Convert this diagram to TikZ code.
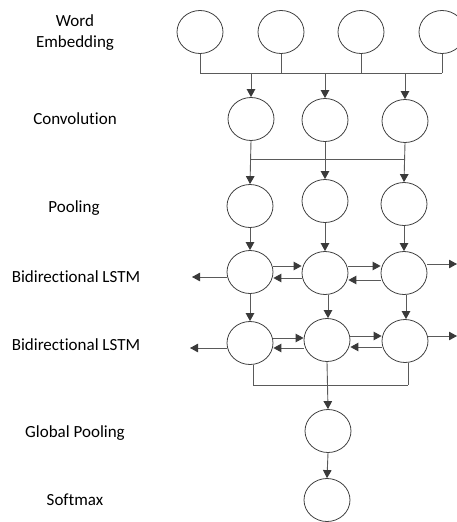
\documentclass[tikz,border=0pt]{standalone}
\usepackage{fontspec}
\setmainfont{Carlito}[Ligatures={NoCommon}]
\usetikzlibrary{shapes.geometric,arrows.meta}
\definecolor{circ}{HTML}{404040}
\definecolor{lnk}{HTML}{5A5A5A}
\definecolor{tipc}{HTML}{3A3A3A}
\begin{document}
\begin{tikzpicture}[x=1pt,y=-1pt,
  unit/.style={ellipse,draw=circ,line width=0.8pt,minimum width=46pt,minimum height=43pt,inner sep=0pt},
  lbl/.style={font=\fontsize{17}{21}\selectfont,align=center,text=black},
  link/.style={draw=lnk,line width=0.9pt},
  arr/.style={link,-{Triangle[length=8pt,width=8.5pt,color=tipc]}}
]
\useasboundingbox (0,0) rectangle (456,522);
% labels
\node[lbl] (tWE) at (75,33) {Word\\Embedding};
\node[lbl] (tConv) at (75,119) {Convolution};
\node[lbl] (tPool) at (74,208) {Pooling};
\node[lbl] (tL1) at (76,277) {Bidirectional LSTM};
\node[lbl] (tL2) at (76,345) {Bidirectional LSTM};
\node[lbl] (tGP) at (75,433) {Global Pooling};
\node[lbl] (tSM) at (75,500) {Softmax};
% word embedding
\node[unit] (we1) at (200,32) {};
\node[unit] (we2) at (281,32) {};
\node[unit] (we3) at (361,32) {};
\node[unit] (we4) at (442,32) {};
% convolution
\node[unit] (cv1) at (251,119) {};
\node[unit] (cv2) at (325,120) {};
\node[unit] (cv3) at (405,121) {};
% pooling
\node[unit] (pl1) at (250,206) {};
\node[unit] (pl2) at (325,201) {};
\node[unit] (pl3) at (404,204) {};
% LSTM 1
\node[unit] (la1) at (250,272) {};
\node[unit] (la2) at (325,273) {};
\node[unit] (la3) at (404,273) {};
% LSTM 2
\node[unit] (lb1) at (250,343) {};
\node[unit] (lb2) at (327,340) {};
\node[unit] (lb3) at (405,341) {};
% global pooling, softmax
\node[unit] (gp) at (328,431) {};
\node[unit] (sm) at (327,500) {};
\coordinate (outLa) at (192,277);
\coordinate (outRa) at (457,264);
\coordinate (outLb) at (190,348);
\coordinate (outRb) at (457,336);
% embedding -> convolution
\draw[link] (we1.south) -- (we1.south |- 0,73);
\draw[link] (we2.south) -- (we2.south |- 0,73);
\draw[link] (we3.south) -- (we3.south |- 0,73);
\draw[link] (we4.south) -- (we4.south |- 0,73);
\draw[link] (we1.south |- 0,73) -- (we4.south |- 0,73);
\draw[arr] (cv1.north |- 0,73) -- (cv1.north);
\draw[arr] (cv2.north |- 0,73) -- (cv2.north);
\draw[arr] (cv3.north |- 0,73) -- (cv3.north);
% convolution -> pooling
\draw[link] (cv1.south |- 0,159) -- (cv3.south |- 0,159);
\draw[arr] (cv1.south) -- (pl1.north);
\draw[arr] (cv2.south) -- (pl2.north);
\draw[arr] (cv3.south) -- (pl3.north);
% pooling -> LSTM1
\draw[arr] (pl1.south) -- (la1.north);
\draw[arr] (pl2.south) -- (la2.north);
\draw[arr] (pl3.south) -- (la3.north);
% LSTM1 horizontal
\draw[arr] (la1.east |- 0,266) -- (la2.west |- 0,266);
\draw[arr] (la2.west |- 0,278) -- (la1.east |- 0,278);
\draw[arr] (la2.east |- 0,266) -- (la3.west |- 0,266);
\draw[arr] (la3.west |- 0,280) -- (la2.east |- 0,280);
\draw[arr] (la1.west |- outLa) -- (outLa);
\draw[arr] (la3.east |- outRa) -- (outRa);
% LSTM1 -> LSTM2
\draw[arr] (la1.south) -- (lb1.north);
\draw[arr] ([xshift=3pt]la2.south) -- ([xshift=1pt]lb2.north);
\draw[arr] ([xshift=2pt]la3.south) -- ([xshift=1pt]lb3.north);
% LSTM2 horizontal
\draw[arr] (lb1.east |- 0,338) -- (lb2.west |- 0,338);
\draw[arr] (lb2.west |- 0,348) -- (lb1.east |- 0,348);
\draw[arr] (lb2.east |- 0,336) -- (lb3.west |- 0,336);
\draw[arr] (lb3.west |- 0,347) -- (lb2.east |- 0,347);
\draw[arr] (lb1.west |- outLb) -- (outLb);
\draw[arr] (lb3.east |- outRb) -- (outRb);
% LSTM2 -> global pooling
\draw[link] ([xshift=3pt]lb1.south) -- ([xshift=3pt]lb1.south |- 0,385);
\draw[link] ([xshift=3pt]lb3.south) -- ([xshift=3pt]lb3.south |- 0,385);
\draw[link] ([xshift=3pt]lb1.south |- 0,385) -- ([xshift=3pt]lb3.south |- 0,385);
\draw[arr] (lb2.south) -- (gp.north);
% global pooling -> softmax
\draw[arr] (gp.south) -- (sm.north);
\end{tikzpicture}
\end{document}
